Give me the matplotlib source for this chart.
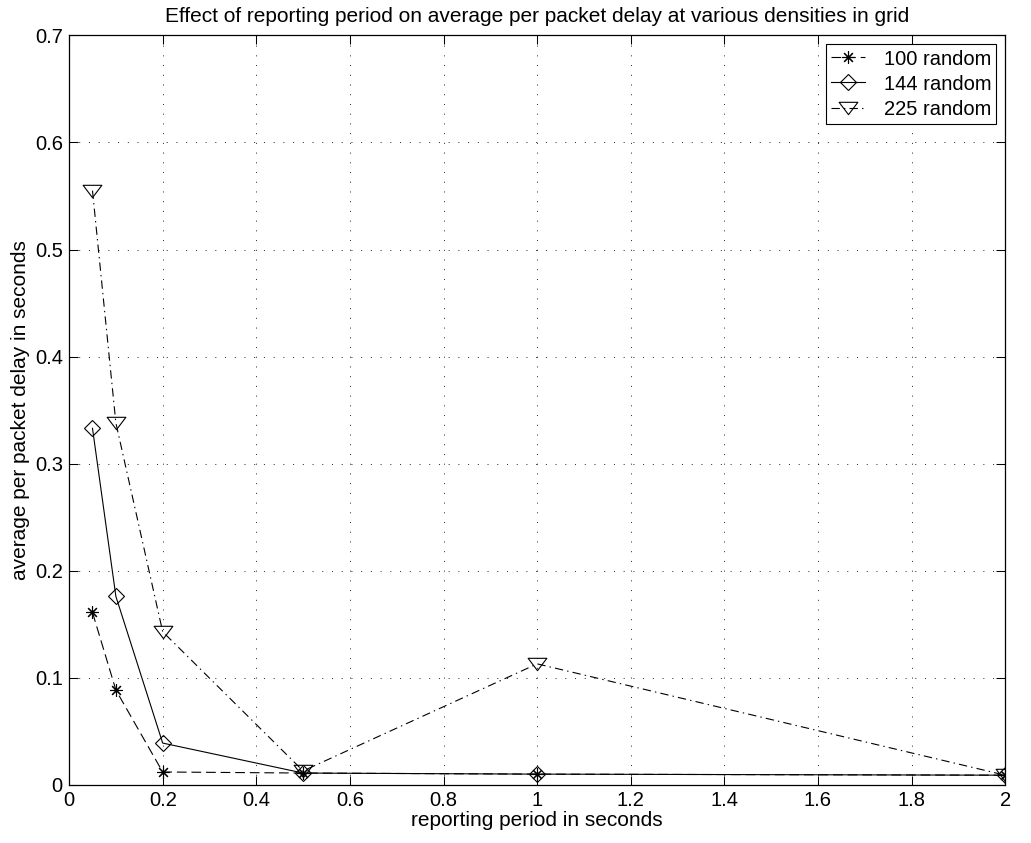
import matplotlib
matplotlib.use("Agg")
import matplotlib.pyplot as plt
from matplotlib.path import Path

plt.rcParams['font.family'] = ['Liberation Sans', 'DejaVu Sans']
plt.rcParams['lines.scale_dashes'] = False

# Reporting periods (seconds)
periods = [0.05, 0.1, 0.2, 0.5, 1.0, 2.0]

# Average per-packet delay (seconds) for each node density
delay_100 = [0.161, 0.0885, 0.012, 0.011, 0.010, 0.009]
delay_144 = [0.333, 0.176, 0.039, 0.011, 0.010, 0.009]
delay_225 = [0.555, 0.338, 0.143, 0.013, 0.113, 0.009]

series_labels = ['100 random', '144 random', '225 random']

x_ticks = [0, 0.2, 0.4, 0.6, 0.8, 1.0, 1.2, 1.4, 1.6, 1.8, 2.0]
x_tick_labels = ['0', '0.2', '0.4', '0.6', '0.8', '1', '1.2', '1.4', '1.6', '1.8', '2']
y_ticks = [0, 0.1, 0.2, 0.3, 0.4, 0.5, 0.6, 0.7]
y_tick_labels = ['0', '0.1', '0.2', '0.3', '0.4', '0.5', '0.6', '0.7']

# Wide, flat downward triangle (MATLAB-style 'v')
tri_down = Path([(-1, 0.66), (1, 0.66), (0, -0.66), (-1, 0.66)],
                [Path.MOVETO, Path.LINETO, Path.LINETO, Path.CLOSEPOLY])

fig = plt.figure(figsize=(10.31, 8.43), dpi=100)
ax = fig.add_axes([0.067, 0.069, 0.908, 0.889])

lw = 0.8
ax.plot(periods, delay_100, color='black', linestyle=(0, (7, 3.5)), linewidth=lw,
        marker=(8, 2, 0), markersize=9, markeredgewidth=0.8, label=series_labels[0])
ax.plot(periods, delay_144, color='black', linestyle='-', linewidth=lw,
        marker='D', markersize=8.5, markerfacecolor='none', markeredgewidth=0.8,
        label=series_labels[1])
ax.plot(periods, delay_225, color='black', linestyle=(0, (6, 3, 1, 3)), linewidth=lw,
        marker=tri_down, markersize=13.5, markerfacecolor='none', markeredgewidth=0.8,
        label=series_labels[2])

ax.set_xlim(0, 2)
ax.set_ylim(0, 0.7)
ax.set_xticks(x_ticks)
ax.set_xticklabels(x_tick_labels)
ax.set_yticks(y_ticks)
ax.set_yticklabels(y_tick_labels)

ax.tick_params(direction='in', length=6.5, width=0.75, top=True, right=True,
               labelsize=14.5, pad=4.5)
ax.grid(True, color='black', linestyle=(0, (0.7, 6.3)), linewidth=0.6)
for s in ax.spines.values():
    s.set_linewidth(0.9)

ax.set_title('Effect of reporting period on average per packet delay at various densities in grid',
             fontsize=15, pad=9.5)
ax.set_xlabel('reporting period in seconds', fontsize=15, labelpad=1)
ax.set_ylabel('average per packet delay in seconds', fontsize=15, labelpad=3.5)

leg = ax.legend(loc='upper right', fontsize=14.5, frameon=True, fancybox=False,
                edgecolor='black', framealpha=1, handlelength=1.7, borderpad=0.25,
                labelspacing=0.3, handletextpad=0.9, borderaxespad=0.45)
leg.get_frame().set_linewidth(0.8)

fig.savefig('out.png', dpi=100, facecolor='white')
